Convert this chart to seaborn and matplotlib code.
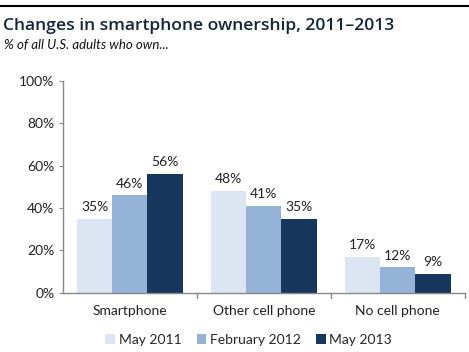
import pandas as pd
import matplotlib.pyplot as plt
import seaborn as sns
from matplotlib.lines import Line2D
from matplotlib.patches import Patch

sns.set_style('white')
plt.rcParams['font.family'] = ['Lato', 'DejaVu Sans']

# Data
categories = ['Smartphone', 'Other cell phone', 'No cell phone']
periods = ['May 2011', 'February 2012', 'May 2013']
may_2011 = [35, 48, 17]
feb_2012 = [46, 41, 12]
may_2013 = [56, 35, 9]
colors = ['#dce6f2', '#95b3d7', '#17375e']

rows = []
for period, vals in zip(periods, [may_2011, feb_2012, may_2013]):
    for cat, v in zip(categories, vals):
        rows.append({'category': cat, 'period': period, 'value': v})
df = pd.DataFrame(rows)

fig = plt.figure(figsize=(4.69, 3.52), dpi=100)
ax = fig.add_axes([0.134, 0.168, 0.857, 0.603])

sns.barplot(data=df, x='category', y='value', hue='period', hue_order=periods,
            order=categories, palette=colors, width=0.79, saturation=1,
            edgecolor='none', ax=ax, legend=False)

for container in ax.containers:
    ax.bar_label(container, labels=[f'{int(b.get_height())}%' for b in container],
                 padding=4, fontsize=10, color='#222222')

ax.set_ylim(0, 100)
ax.set_xlim(-0.5, 2.5)
ax.set_yticks(range(0, 101, 20))
ax.set_yticklabels([f'{v}%' for v in range(0, 101, 20)], fontsize=10, color='#222222')
ax.set_xticks([0, 1, 2])
ax.set_xticklabels(categories, fontsize=10, color='#222222')
ax.tick_params(axis='x', length=0, pad=9)
ax.tick_params(axis='y', length=3, color='#888888', pad=3, direction='out', left=True)
ax.set_xlabel('')
ax.set_ylabel('')

for side in ['top', 'right']:
    ax.spines[side].set_visible(False)
for side in ['left', 'bottom']:
    ax.spines[side].set_color('#888888')
    ax.spines[side].set_linewidth(1)

# category separator ticks on the x axis
for xb in [0.5, 1.5, 2.5]:
    ax.plot([xb, xb], [0, -2.5], color='#888888', lw=1, clip_on=False)

# Title block
fig.add_artist(Line2D([0, 1], [0.984, 0.984], color='black', lw=1.5))
fig.text(0.006, 0.925, 'Changes in smartphone ownership, 2011\u20132013',
         fontsize=12.6, fontweight='semibold', color='#16253a', ha='left', va='center',
         family=['Open Sans', 'DejaVu Sans'])
fig.text(0.008, 0.873, '% of all U.S. adults who own...', fontsize=9.5,
         style='italic', color='#111111', ha='left', va='center')

# Legend
handles = [Patch(facecolor=c, edgecolor='none') for c in colors]
fig.legend(handles, periods, loc='center', bbox_to_anchor=(0.53, 0.035), ncol=3,
           frameon=False, fontsize=10, handlelength=0.7, handleheight=0.7,
           handletextpad=0.25, columnspacing=1.1)

fig.savefig('out.png', dpi=100)
